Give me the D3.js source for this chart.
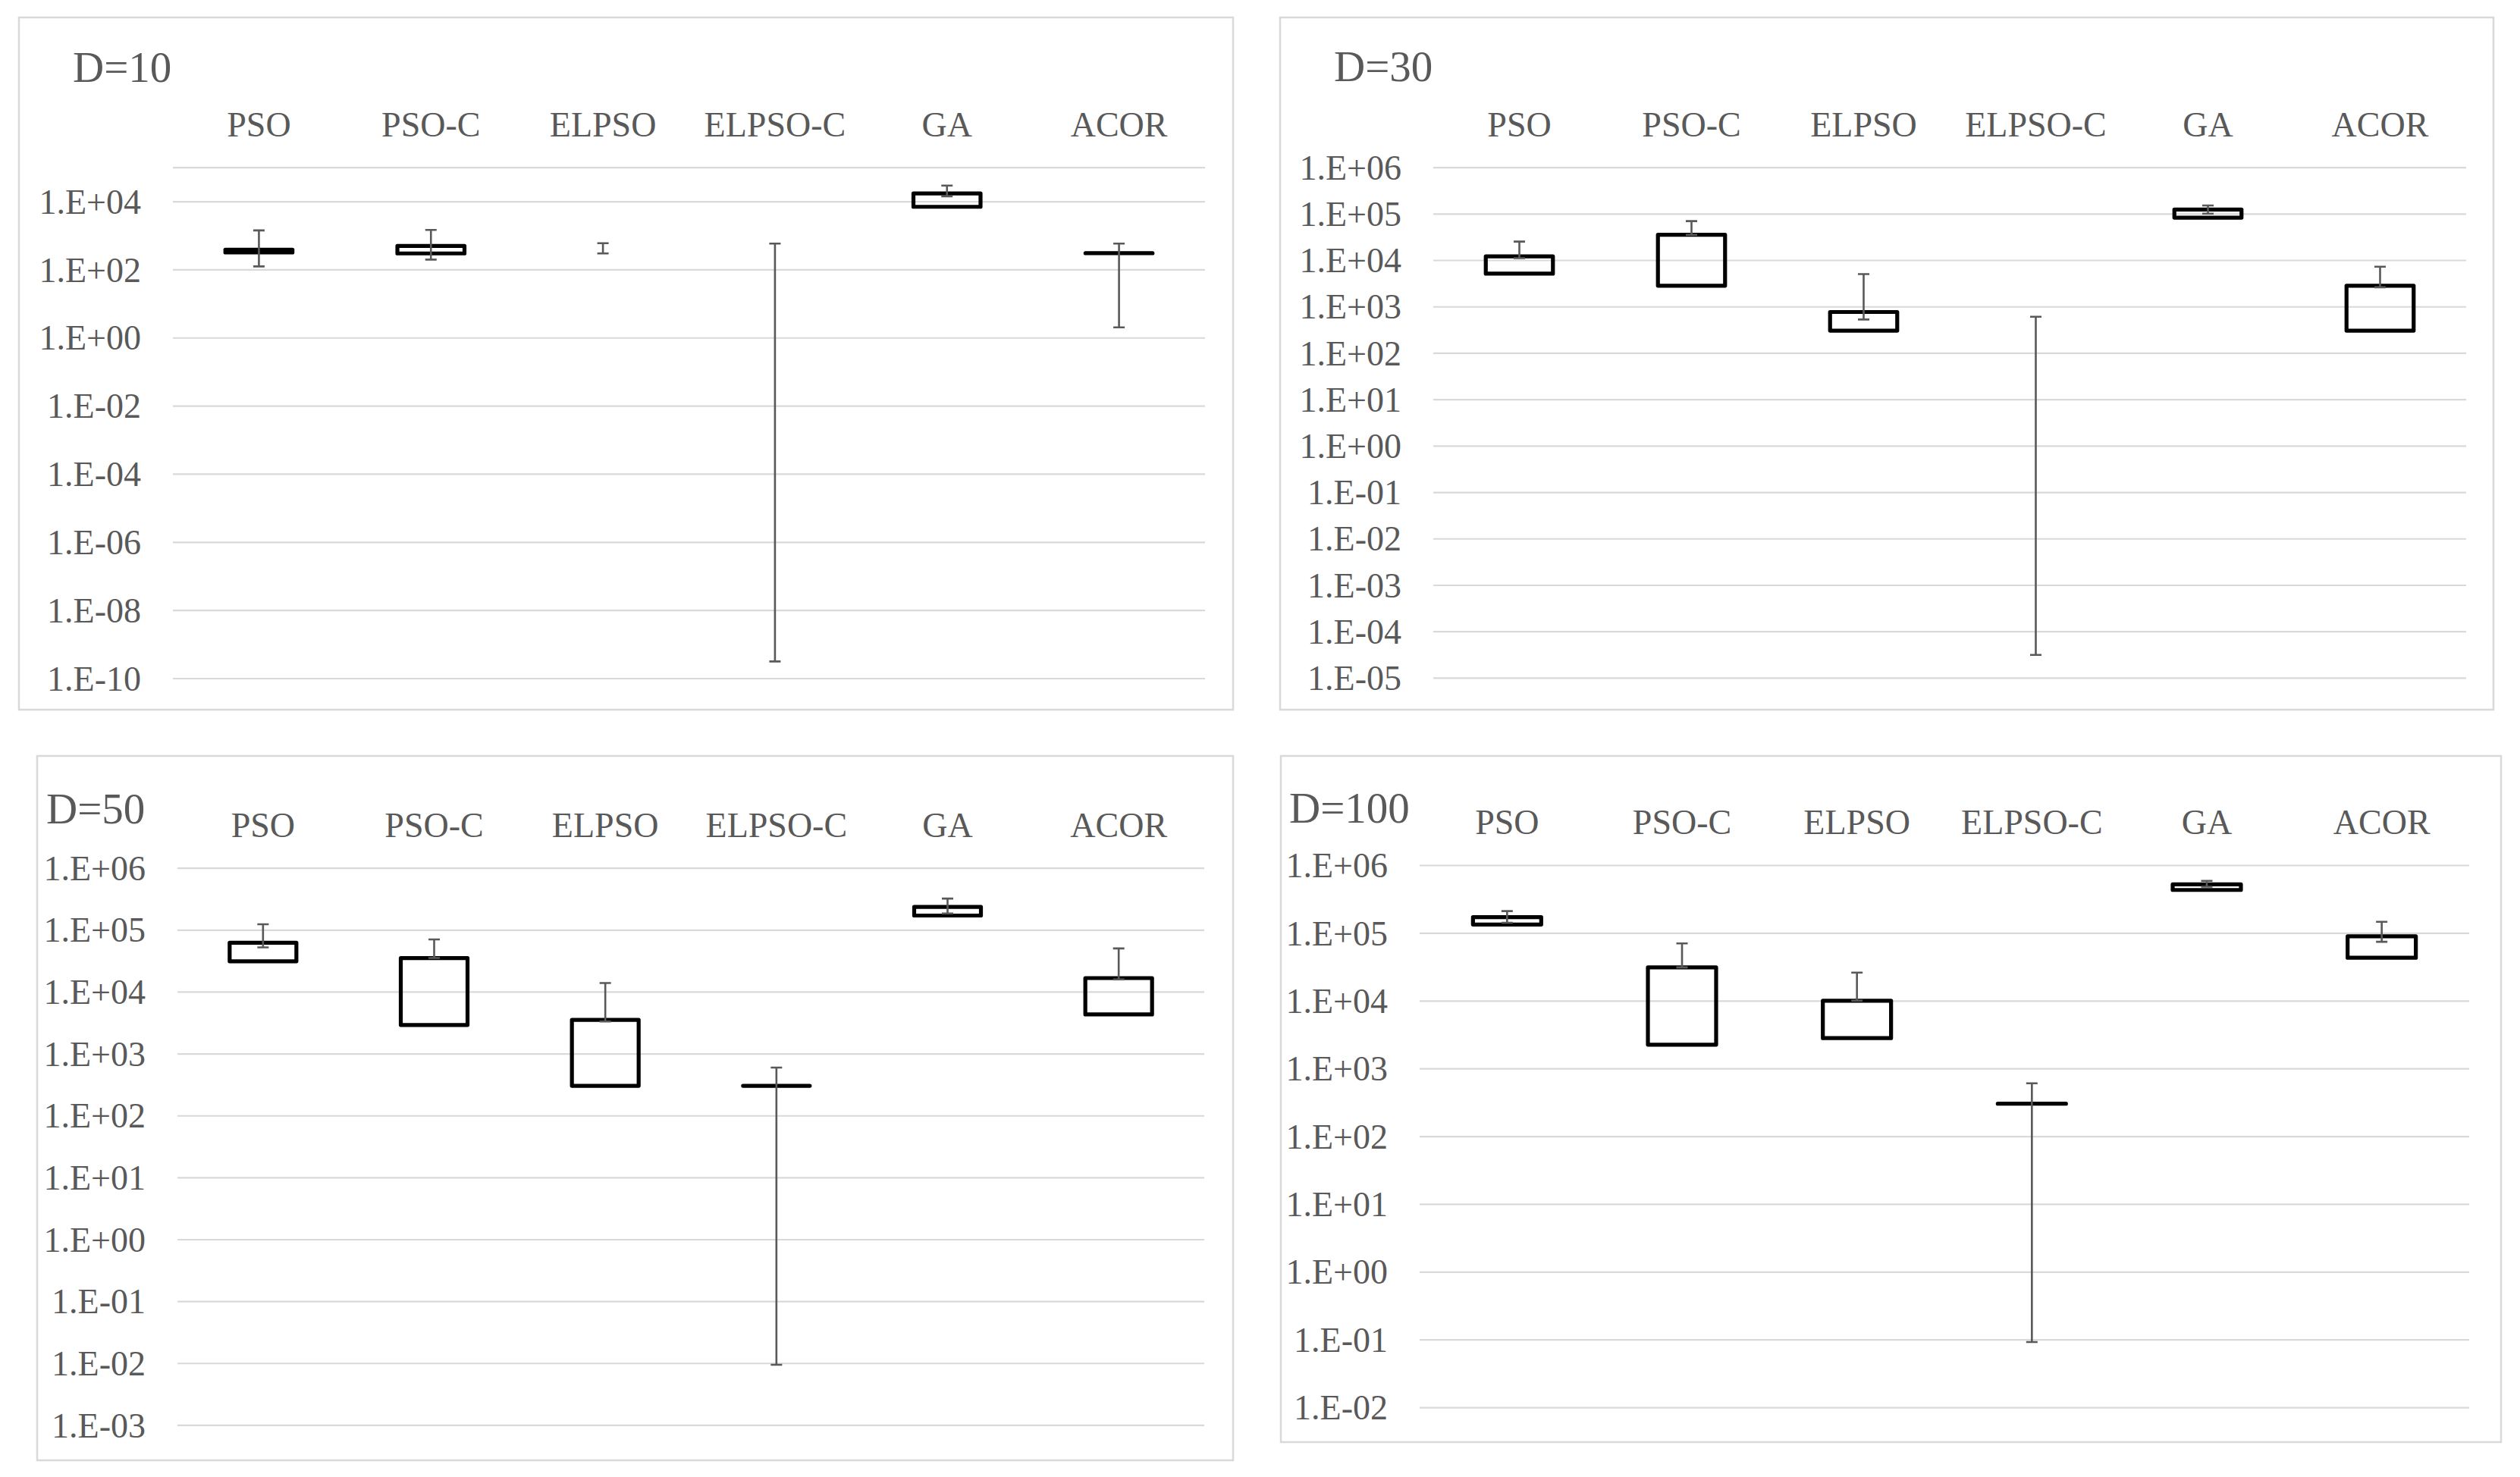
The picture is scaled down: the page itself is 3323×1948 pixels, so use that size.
<!DOCTYPE html>
<html>
<head>
<meta charset="utf-8">
<script src="https://cdn.jsdelivr.net/npm/d3@7"></script>
<style>
  html, body { margin: 0; padding: 0; background: #ffffff; }
  svg { display: block; }
</style>
</head>
<body>
<svg id="chart" width="3323" height="1948"></svg>
<script>
// ---------------- DATA ----------------
const categories = ["PSO", "PSO-C", "ELPSO", "ELPSO-C", "GA", "ACOR"];
const panelTitles = ["D=10", "D=30", "D=50", "D=100"];

// tick label exponents (labels are 1.E±xx)
const tickExpD10  = [-10, -8, -6, -4, -2, 0, 2, 4];
const tickExpD30  = [-5, -4, -3, -2, -1, 0, 1, 2, 3, 4, 5, 6];
const tickExpD50  = [-3, -2, -1, 0, 1, 2, 3, 4, 5, 6];
const tickExpD100 = [-2, -1, 0, 1, 2, 3, 4, 5, 6];

// box (lower / upper edge) and whisker (lower / upper end) per category
const boxLowD10      = [316, 295, null, null, 6900, 300];
const boxHighD10     = [380, 490, null, null, 17000, 300];
const whiskerLowD10  = [123, 195, 295, 3.1e-10, 14000, 2.0];
const whiskerHighD10 = [1400, 1450, 590, 575, 29000, 575];

const boxLowD30      = [5100, 2800, 302, null, 82000, 302];
const boxHighD30     = [12000, 35000, 760, null, 123000, 2800];
const whiskerLowD30  = [11000, 35000, 525, 3.1e-5, 100000, 2600];
const whiskerHighD30 = [25000, 69000, 5000, 600, 150000, 7200];

const boxLowD50      = [31000, 2900, 302, 302, 170000, 4300];
const boxHighD50     = [62000, 35000, 3500, 302, 235000, 16600];
const whiskerLowD50  = [52000, 35000, 3300, 0.0094, 184000, 15800];
const whiskerHighD50 = [123000, 70000, 13800, 596, 320000, 50000];

const boxLowD100      = [133000, 2240, 2800, 302, 430000, 43000];
const boxHighD100     = [171000, 31000, 10000, 302, 520000, 89000];
const whiskerLowD100  = [141000, 31000, 10000, 0.092, 480000, 74000];
const whiskerHighD100 = [210000, 70000, 26000, 603, 585000, 146000];

const axisMinExp = [-10, -5, -3, -2];
const axisMaxExp = [5, 6, 6, 6];

// ---------------- LAYOUT ----------------
const panels = [
  { title: panelTitles[0], ticks: tickExpD10, boxLow: boxLowD10, boxHigh: boxHighD10, wLow: whiskerLowD10, wHigh: whiskerHighD10,
    frame: [25, 23, 1626, 936], plotX: [228, 1589], plotY: [894.5, 220.6], titlePos: [96, 108], catY: 180 },
  { title: panelTitles[1], ticks: tickExpD30, boxLow: boxLowD30, boxHigh: boxHighD30, wLow: whiskerLowD30, wHigh: whiskerHighD30,
    frame: [1688, 23, 3288, 936], plotX: [1890, 3252], plotY: [893.9, 220.6], titlePos: [1759, 107], catY: 180 },
  { title: panelTitles[2], ticks: tickExpD50, boxLow: boxLowD50, boxHigh: boxHighD50, wLow: whiskerLowD50, wHigh: whiskerHighD50,
    frame: [49, 997, 1626, 1926], plotX: [234, 1588], plotY: [1879.4, 1144.7], titlePos: [61, 1086], catY: 1104 },
  { title: panelTitles[3], ticks: tickExpD100, boxLow: boxLowD100, boxHigh: boxHighD100, wLow: whiskerLowD100, wHigh: whiskerHighD100,
    frame: [1689, 997, 3298, 1902], plotX: [1872, 3256], plotY: [1856.1, 1141], titlePos: [1700, 1085], catY: 1100 }
];

const FONT = "'Liberation Serif', 'Times New Roman', 'DejaVu Serif', serif";
const TEXT = "#595959";
const GRID = "#d9d9d9";

function fmtExp(e) {
  const s = e < 0 ? "-" : "+";
  return "1.E" + s + String(Math.abs(e)).padStart(2, "0");
}

const svg = d3.select("#chart");

panels.forEach((p, i) => {
  const g = svg.append("g");

  // frame
  g.append("rect")
    .attr("x", p.frame[0]).attr("y", p.frame[1])
    .attr("width", p.frame[2] - p.frame[0]).attr("height", p.frame[3] - p.frame[1])
    .attr("fill", "#fff").attr("stroke", GRID).attr("stroke-width", 2.5);

  const x = d3.scaleBand().domain(categories).range(p.plotX).paddingInner(0).paddingOuter(0);
  const y = d3.scaleLog().domain([Math.pow(10, axisMinExp[i]), Math.pow(10, axisMaxExp[i])]).range(p.plotY);

  const labeled = new Set(p.ticks);
  const gridExps = d3.range(axisMinExp[i], axisMaxExp[i] + 1).filter(e => labeled.has(e) || e === axisMaxExp[i]);
  const gridVals = gridExps.map(e => Math.pow(10, e));

  // y axis with gridlines
  const yAxis = d3.axisLeft(y)
    .tickValues(gridVals)
    .tickSize(-(p.plotX[1] - p.plotX[0]))
    .tickPadding(42)
    .tickFormat(v => {
      const e = Math.round(Math.log10(v));
      return labeled.has(e) ? fmtExp(e) : "";
    });
  const ya = g.append("g").attr("transform", `translate(${p.plotX[0]},0)`).call(yAxis);
  ya.select(".domain").remove();
  ya.selectAll(".tick line").attr("stroke", GRID).attr("stroke-width", 2.2);
  ya.selectAll(".tick text")
    .attr("fill", TEXT).attr("font-family", FONT).attr("font-size", 46).attr("dy", "0.34em");

  // category axis on top
  const xAxis = d3.axisTop(x).tickSize(0).tickPadding(0);
  const xa = g.append("g").attr("transform", `translate(0,${p.catY})`).call(xAxis);
  xa.select(".domain").remove();
  xa.selectAll(".tick text")
    .attr("fill", TEXT).attr("font-family", FONT).attr("font-size", 46).attr("dy", "0em").attr("y", 0);

  // title
  g.append("text")
    .attr("x", p.titlePos[0]).attr("y", p.titlePos[1])
    .attr("fill", TEXT).attr("font-family", FONT).attr("font-size", 57)
    .text(p.title);

  const bw = x.bandwidth();
  const boxW = bw * 0.39;

  // boxes
  categories.forEach((c, k) => {
    if (p.boxLow[k] == null || p.boxHigh[k] == null) return;
    const x0 = x(c) + (bw - boxW) / 2;
    const yT = y(p.boxHigh[k]);
    const yB = y(p.boxLow[k]);
    const path = d3.path();
    path.moveTo(x0, yT);
    path.lineTo(x0 + boxW, yT);
    path.lineTo(x0 + boxW, yB);
    path.lineTo(x0, yB);
    path.closePath();
    g.append("path").attr("d", path.toString())
      .attr("fill", "none").attr("stroke", "#000").attr("stroke-width", 5.2)
      .attr("stroke-linejoin", "round").attr("stroke-linecap", "round");
  });

  // whiskers
  const capW = 15;
  categories.forEach((c, k) => {
    if (p.wLow[k] == null || p.wHigh[k] == null) return;
    const cx = x(c) + bw / 2;
    const y1 = y(p.wHigh[k]);
    const y2 = y(p.wLow[k]);
    const path = d3.path();
    path.moveTo(cx, y1); path.lineTo(cx, y2);
    path.moveTo(cx - capW / 2, y1); path.lineTo(cx + capW / 2, y1);
    path.moveTo(cx - capW / 2, y2); path.lineTo(cx + capW / 2, y2);
    g.append("path").attr("d", path.toString())
      .attr("fill", "none").attr("stroke", TEXT).attr("stroke-width", 2.6);
  });
});
</script>
</body>
</html>
